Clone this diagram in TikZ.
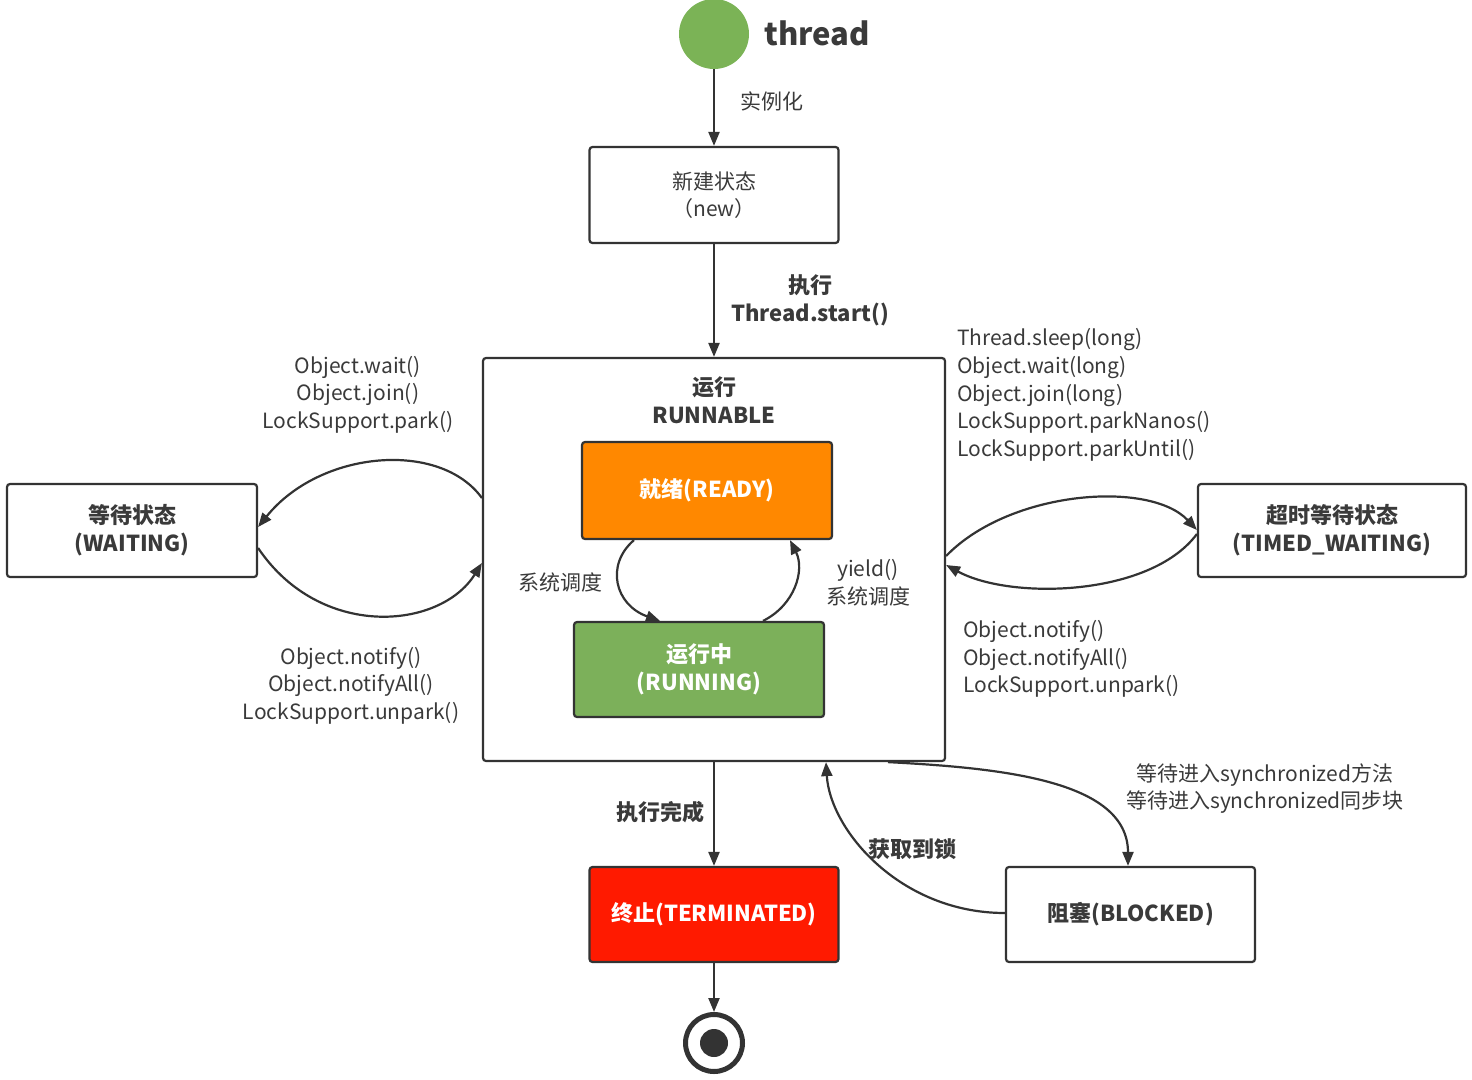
\documentclass[tikz,border=0pt]{standalone}
\usepackage{fontspec}
\setmainfont{Noto Sans CJK SC}
\usetikzlibrary{arrows.meta,calc}
\definecolor{ink}{HTML}{333333}
\definecolor{txt}{HTML}{3A3A3A}
\definecolor{startgreen}{HTML}{7BB356}
\definecolor{readyorange}{HTML}{FF8800}
\definecolor{runninggreen}{HTML}{7CB05A}
\definecolor{termred}{HTML}{FF1A00}
\newcommand\fsN{\fontsize{21}{27.6}\selectfont}
\newcommand\fsB{\fontsize{22}{28}\selectfont\bfseries}
\begin{document}
\begin{tikzpicture}[x=1pt,y=-1pt,
  statebox/.style={draw=ink, line width=2.2pt, rounded corners=3pt, align=center, inner sep=0pt, text=txt},
  lbl/.style={font=\fsN, text=txt, align=center, inner sep=0pt},
  lblb/.style={font=\fsB, text=txt, align=center, inner sep=0pt},
  arr/.style={draw=ink, line width=2.2pt, -{Triangle[length=14pt,width=11pt]}}
]
\useasboundingbox (0,0) rectangle (1472,1079);

% start
\node[circle, fill=startgreen, minimum size=70pt, inner sep=0pt] (start) at (714,34) {};
\node[font=\fontsize{31}{36}\selectfont\bfseries, text=txt, inner sep=0pt] (threadlbl) at (817,33) {thread};

% boxes
\node[statebox, font=\fsN, minimum width=249pt, minimum height=96pt] (new) at (714,195) {新建状态\\（new）};
\node[statebox, minimum width=462pt, minimum height=403pt] (run) at (714,559.5) {};
\node[lblb] (runtitle) at (714,400) {运行\\RUNNABLE};
\node[statebox, fill=readyorange, text=white, font=\fsB, minimum width=250pt, minimum height=97pt] (ready) at (707,490.5) {就绪(READY)};
\node[statebox, fill=runninggreen, text=white, font=\fsB, minimum width=250pt, minimum height=95pt] (running) at (699,669.5) {运行中\\(RUNNING)};
\node[statebox, font=\fsB, minimum width=250pt, minimum height=93pt] (wait) at (132,530.5) {等待状态\\(WAITING)};
\node[statebox, font=\fsB, minimum width=268pt, minimum height=93pt] (tw) at (1332,530.5) {超时等待状态\\(TIMED\_WAITING)};
\node[statebox, fill=termred, text=white, font=\fsB, minimum width=249pt, minimum height=95pt] (term) at (714,914.5) {终止(TERMINATED)};
\node[statebox, font=\fsB, minimum width=249pt, minimum height=95pt] (block) at (1130.5,914.5) {阻塞(BLOCKED)};

% end
\node[circle, draw=ink, line width=5pt, minimum size=57pt, inner sep=0pt] (end) at (714,1043) {};
\fill[ink] (end.center) circle (14pt);

% straight arrows
\draw[arr] (start) -- (new);
\draw[arr] (new.south) -- (run.north);
\draw[arr] (run.south) -- (term.north);
\draw[arr] (term.south) -- (end.north);

% waiting
\draw[arr] (run.west |- 0,498) .. controls (440,440) and (320,450) .. (wait.east |- 0,527);
\draw[arr] (wait.east |- 0,548) .. controls (320,640) and (440,630) .. (run.west |- 0,563);
% timed waiting
\draw[arr] (run.east |- 0,556) .. controls (1010,490) and (1150,480) .. (tw.west |- 0,530);
\draw[arr] (tw.west |- 0,534) .. controls (1150,597) and (1010,600) .. (run.east |- 0,565);
% ready / running
\draw[arr] (ready.south -| 634,0) .. controls (605,565) and (615,605) .. (running.north -| 660,0);
\draw[arr] (running.north -| 763,0) .. controls (795,605) and (805,570) .. (ready.south -| 790,0);
% blocked
\draw[arr] (run.south -| 888,0) .. controls (1000,768) and (1128,780) .. (block.north -| 1128,0);
\draw[arr] (block.west |- 0,913) .. controls (900,913) and (830,830) .. (run.south -| 826,0);

% labels
\node[lbl] (l1) at (772,101) {实例化};
\node[lblb] (l2) at (810,300.5) {执行\\Thread.start()};
\node[lbl] (l3) at (358,394.5) {Object.wait()\\Object.join()\\LockSupport.park()};
\node[lbl] (l4) at (351,685.5) {Object.notify()\\Object.notifyAll()\\LockSupport.unpark()};
\node[lbl, anchor=west, align=left] (l5) at (957,395) {Thread.sleep(long)\\Object.wait(long)\\Object.join(long)\\LockSupport.parkNanos()\\LockSupport.parkUntil()};
\node[lbl, anchor=west, align=left] (l6) at (963,659) {Object.notify()\\Object.notifyAll()\\LockSupport.unpark()};
\node[lbl] (l7) at (560,582) {系统调度};
\node[lbl] (l8) at (868,583) {yield()\\系统调度};
\node[lblb] (l9) at (660,812) {执行完成};
\node[lblb] (l10) at (912,849) {获取到锁};
\node[lbl] (l11) at (1265,788.5) {等待进入synchronized方法\\等待进入synchronized同步块};
\end{tikzpicture}
\end{document}
